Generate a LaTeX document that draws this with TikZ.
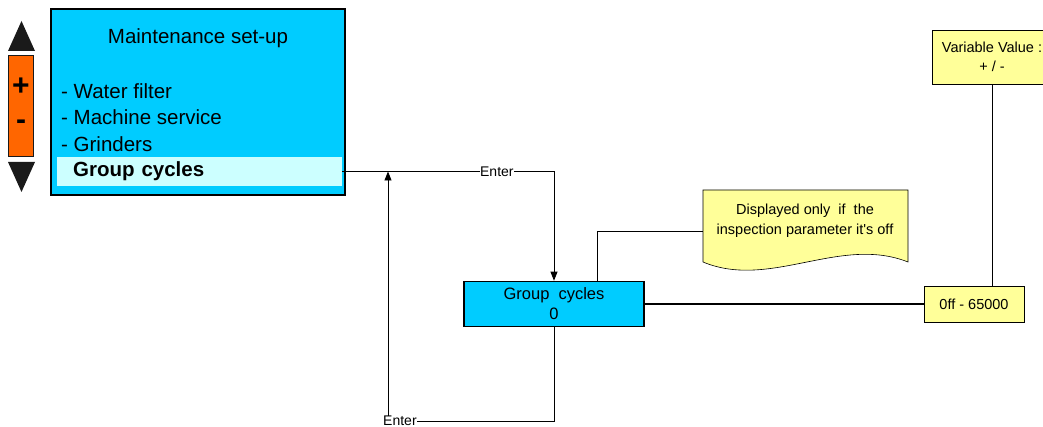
\documentclass[tikz,border=0pt]{standalone}
\usepackage{fontspec}
\setmainfont{Liberation Sans}
\usetikzlibrary{arrows.meta,positioning}
\definecolor{scrcyan}{RGB}{0,204,255}
\definecolor{selcyan}{RGB}{204,255,255}
\definecolor{noteyel}{RGB}{255,255,153}
\definecolor{keyorange}{RGB}{255,102,0}
\definecolor{keydark}{RGB}{26,26,26}

\begin{document}
\begin{tikzpicture}[x=1pt,y=-1pt,
  screen/.style={draw,line width=1.6pt,fill=scrcyan,inner sep=0pt},
  memo/.style={draw,line width=0.6pt,fill=noteyel,inner sep=0pt,align=center,font=\fontsize{14.5}{19}\selectfont},
  line/.style={line width=0.8pt},
  arr/.style={line width=0.8pt,-{Triangle[length=9pt,width=7pt]}},
  lbl/.style={fill=white,inner sep=0.5pt,font=\fontsize{14}{16}\selectfont}]
  \clip (0,0) rectangle (1043,427);
  % Keys
  \fill[keydark] (8,51) -- (21.5,21) -- (35,51) -- cycle;
  \fill[keydark] (8,162) -- (35,162) -- (21.5,192) -- cycle;
  \node[draw=keydark,line width=1pt,fill=keyorange,minimum width=25pt,minimum height=101pt,inner sep=0pt] (keys) at (21,106) {};
  \node[font=\fontsize{30}{30}\selectfont\bfseries] (plus) at (21,87) {+};
  \node[font=\fontsize{30}{30}\selectfont\bfseries] (minus) at (21,125) {-};
  % Menu screen
  \node[screen,minimum width=294pt,minimum height=186pt] (menu) at (198,102) {};
  \node[font=\fontsize{20.5}{24}\selectfont] (title) at (198,38) {Maintenance set-up};
  \node[anchor=west,align=left,inner sep=0pt,font=\fontsize{20.5}{26.5}\selectfont] (items) at (61,117.5) {- Water filter\\- Machine service\\- Grinders};
  \node[fill=selcyan,anchor=west,minimum height=29pt,text width=253pt,inner xsep=16pt,inner ysep=0pt,font=\fontsize{20.5}{24}\selectfont\bfseries] (sel) at (57,171.5) {Group cycles};
  % Group cycles
  \node[screen,minimum width=180pt,minimum height=45pt,align=center,font=\fontsize{16.5}{20}\selectfont] (gc) at (554,304) {Group\ \ cycles\\0};
  \node[memo,minimum width=100pt,minimum height=36pt] (off) at (974,304) {0ff - 65000};
  \node[memo,minimum width=120pt,minimum height=54pt] (var) at (992,57) {Variable Value :\\+ / -};
  % Note
  \draw[line width=0.6pt,fill=noteyel] (703,190) -- (908,190) -- (908,262) .. controls (840,235) and (770,290) .. (703,262) -- cycle;
  \node[align=center,font=\fontsize{14.5}{20}\selectfont] (note) at (805,221) {Displayed only\ \ if\ \ the\\inspection parameter it\textquotesingle s off};
  \coordinate (notein) at (703,231);
  \coordinate (ret) at (388,171.5);
  \coordinate (turn) at (388,421);
  % Connectors
  \draw[arr] (sel.east) -| (gc.north) node[lbl,pos=0.365]{Enter};
  \draw[arr] (gc.south) |- (turn) node[lbl,pos=0.964]{Enter} -- (ret);
  \draw[line width=2pt] (gc.east) -- (off.west);
  \draw[line] ([xshift=43pt]gc.north) |- (notein);
  \draw[line] (var.south) -- (var.south |- off.north);
\end{tikzpicture}
\end{document}
